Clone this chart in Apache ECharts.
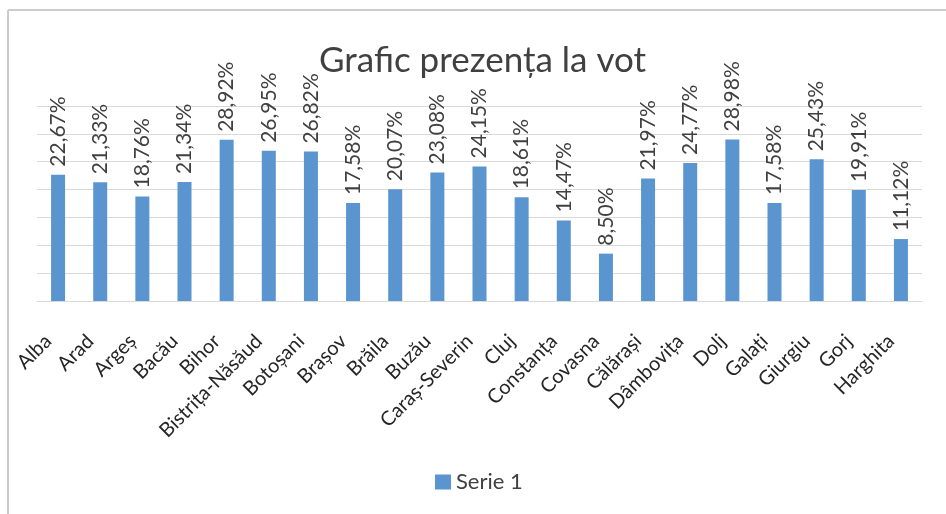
<!DOCTYPE html>
<html>
<head>
<meta charset="utf-8">
<script src="https://cdn.jsdelivr.net/npm/echarts@6/dist/echarts.min.js"></script>
<style>
  html, body { margin: 0; padding: 0; background: #fff; }
  #chart { width: 946px; height: 514px; }
</style>
</head>
<body>
<div id="chart"></div>
<script>
// judete (ordinea din grafic)
var judete = ['Alba', 'Arad', 'Argeș', 'Bacău', 'Bihor', 'Bistrița-Năsăud', 'Botoșani',
  'Brașov', 'Brăila', 'Buzău', 'Caraș-Severin', 'Cluj', 'Constanța', 'Covasna',
  'Călărași', 'Dâmbovița', 'Dolj', 'Galați', 'Giurgiu', 'Gorj', 'Harghita']
// prezenta la vot, %
var prezenta = [22.67, 21.33, 18.76, 21.34, 28.92, 26.95, 26.82, 17.58, 20.07, 23.08,
  24.15, 18.61, 14.47, 8.50, 21.97, 24.77, 28.98, 17.58, 25.43, 19.91, 11.12]

var font = 'Lato, "Open Sans", sans-serif'
var chart = echarts.init(document.getElementById('chart'))

chart.setOption({
  animation: false,
  textStyle: { fontFamily: font },
  title: {
    text: 'Grafic prezența la vot',
    left: 314,
    top: 38,
    textStyle: { fontFamily: font, fontSize: 35, fontWeight: 'normal', color: '#404040' }
  },
  legend: {
    data: ['Serie 1'],
    left: 430,
    top: 466,
    itemWidth: 16,
    itemHeight: 15,
    itemGap: 10,
    icon: 'rect',
    textStyle: { fontFamily: font, fontSize: 22, color: '#404040' }
  },
  grid: {
    left: 37,
    right: 24,
    top: 106,
    bottom: 213,
    containLabel: false
  },
  // rama graficului
  graphic: [
    { type: 'line', shape: { x1: 8, y1: 10, x2: 946, y2: 10 }, style: { stroke: '#cccccc', lineWidth: 2 } },
    { type: 'line', shape: { x1: 8, y1: 10, x2: 8, y2: 514 }, style: { stroke: '#cccccc', lineWidth: 2 } }
  ],
  xAxis: {
    type: 'category',
    data: judete,
    axisTick: { show: false },
    axisLine: { lineStyle: { color: '#d9d9d9', width: 1 } },
    axisLabel: {
      interval: 0,
      rotate: 45,
      margin: 27,
      padding: [0, 14, 0, 0],
      fontFamily: font,
      fontSize: 20,
      color: '#262626'
    }
  },
  yAxis: {
    type: 'value',
    min: 0,
    max: 35,
    interval: 5,
    axisLabel: { show: false },
    axisLine: { show: false },
    axisTick: { show: false },
    splitLine: { lineStyle: { color: '#d9d9d9', width: 1 } }
  },
  series: [{
    name: 'Serie 1',
    type: 'bar',
    data: prezenta,
    barWidth: 14,
    itemStyle: { color: '#5b95cf' },
    label: {
      show: true,
      position: 'top',
      rotate: 90,
      align: 'left',
      verticalAlign: 'middle',
      distance: 8,
      fontFamily: font,
      fontSize: 21,
      color: '#404040',
      formatter: function (p) {
        return p.value.toFixed(2).replace('.', ',') + '%'
      }
    }
  }]
})
</script>
</body>
</html>
